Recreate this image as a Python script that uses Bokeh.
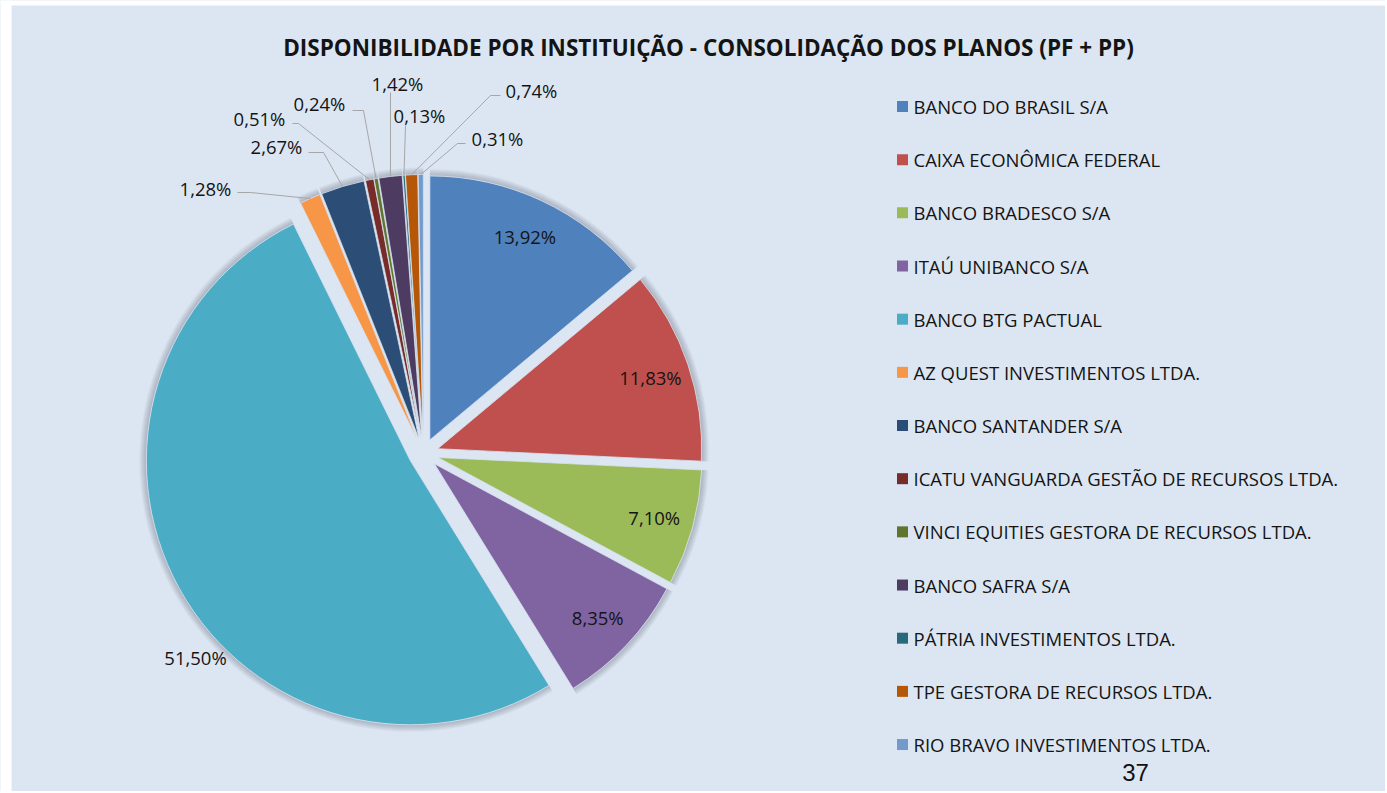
import math
from bokeh.plotting import figure
from bokeh.models import Range1d, ColumnDataSource
from bokeh.core.properties import value
from bokeh.embed import file_html
from bokeh.resources import INLINE

# ---------------- data ----------------
TITLE = "DISPONIBILIDADE POR INSTITUIÇÃO - CONSOLIDAÇÃO DOS PLANOS (PF + PP)"
institutions = [
    "BANCO DO BRASIL S/A",
    "CAIXA ECONÔMICA FEDERAL",
    "BANCO BRADESCO S/A",
    "ITAÚ UNIBANCO S/A",
    "BANCO BTG PACTUAL",
    "AZ QUEST INVESTIMENTOS LTDA.",
    "BANCO SANTANDER S/A",
    "ICATU VANGUARDA GESTÃO DE RECURSOS LTDA.",
    "VINCI EQUITIES GESTORA DE RECURSOS LTDA.",
    "BANCO SAFRA S/A",
    "PÁTRIA INVESTIMENTOS LTDA.",
    "TPE GESTORA DE RECURSOS LTDA.",
    "RIO BRAVO INVESTIMENTOS LTDA.",
]
shares = [13.92, 11.83, 7.10, 8.35, 51.50, 1.28, 2.67, 0.51, 0.24, 1.42, 0.13, 0.74, 0.31]
colors = ["#4F81BD", "#C0504D", "#9BBB59", "#8064A2", "#4BACC6", "#F79646", "#2C4D75",
          "#772C2A", "#5F7530", "#4D3B62", "#276A7C", "#B65708", "#729ACA"]
PAGE_NUMBER = "37"

# ---------------- layout ----------------
W, H = 1385, 791
BG = "#DCE6F2"
FONT = "Open Sans"
TXT = "#141414"
CX, CY = 423, 453      # pie centre (screen px)
R = 264                # radius
D = 15                 # explosion distance
LBL_SIZE = "18.5px"

# outside labels: text centre, leader-line points before reaching the slice
OUT_LABELS = {
    4: dict(text=(195, 657), line=None),
    5: dict(text=(205, 188), line=[(237, 192), (250, 192)]),
    6: dict(text=(276, 146), line=[(308, 152), (323, 152)]),
    7: dict(text=(259, 118), line=[(292, 123), (298, 123)]),
    8: dict(text=(319, 103), line=[(352, 110), (363, 110)]),
    9: dict(text=(397, 83), line=[(390, 92)]),
    10: dict(text=(419, 115), line=[(405, 125)]),
    11: dict(text=(531, 90), line=[(500, 95), (490, 95)]),
    12: dict(text=(497, 138), line=[(465, 143), (457, 143)]),
}

p = figure(width=W, height=H, x_range=Range1d(0, W), y_range=Range1d(-H, 0),
           output_backend="svg", toolbar_location=None, min_border=0)
p.axis.visible = False
p.grid.visible = False
p.outline_line_color = None
p.background_fill_color = BG
p.border_fill_color = "white"

# white page strips (left and top)
p.quad(left=[0, 0], right=[11, W], top=[0, 0], bottom=[-H, -5], color="white", line_color=None)

total = sum(shares)
cum = 0.0
starts, ends, apex, dirs = [], [], [], []
for v in shares:
    c0 = cum / total
    c1 = (cum + v) / total
    cum += v
    tm = math.pi * (c0 + c1)             # mid angle clockwise from top
    dx, dy = math.sin(tm), math.cos(tm)  # data direction (y up)
    apex.append((CX + D * dx, -CY + D * dy))
    dirs.append((dx, dy))
    starts.append(math.pi / 2 - 2 * math.pi * c0)
    ends.append(math.pi / 2 - 2 * math.pi * c1)

src = ColumnDataSource(dict(x=[a[0] for a in apex], y=[a[1] for a in apex],
                            s=starts, e=ends, c=colors))

# soft shadow
for k in range(1, 8):
    p.wedge(x="x", y="y", radius=R + k, start_angle="s", end_angle="e", direction="clock",
            source=src, fill_color="#4a5460", fill_alpha=0.05, line_color=None)

p.wedge(x="x", y="y", radius=R, start_angle="s", end_angle="e", direction="clock",
        source=src, fill_color="c", line_color=BG, line_width=0.8)

def fmt(v):
    return ("%.2f" % v).replace(".", ",") + "%"

# inside labels
in_x, in_y, in_t = [], [], []
for i, v in enumerate(shares):
    if i in OUT_LABELS:
        continue
    ax, ay = apex[i]
    dx, dy = dirs[i]
    in_x.append(ax + 0.85 * R * dx)
    in_y.append(ay + 0.85 * R * dy)
    in_t.append(fmt(v))
p.text(in_x, in_y, text=in_t, text_font=value(FONT), text_font_size=value(LBL_SIZE),
       text_color=TXT, text_align="center", text_baseline="middle")

# outside labels + leader lines
out_x, out_y, out_t = [], [], []
for i, spec in OUT_LABELS.items():
    tx, ty = spec["text"]
    out_x.append(tx)
    out_y.append(-ty)
    out_t.append(fmt(shares[i]))
    if spec["line"]:
        ax, ay = apex[i]
        dx, dy = dirs[i]
        pts = [(x, -y) for x, y in spec["line"]] + [(ax + R * dx, ay + R * dy)]
        p.line([q[0] for q in pts], [q[1] for q in pts], line_color="#A6A6A6", line_width=1)
p.text(out_x, out_y, text=out_t, text_font=value(FONT), text_font_size=value(LBL_SIZE),
       text_color=TXT, text_align="center", text_baseline="middle")

# title
p.text([708], [-47], text=[TITLE], text_font=value(FONT), text_font_size=value("22.5px"),
       text_font_style="bold", text_color=TXT, text_align="center", text_baseline="middle")

# legend
LEG_X, LEG_Y0, LEG_DY = 902, 106, 53.17
ly = [-(LEG_Y0 + i * LEG_DY) for i in range(len(institutions))]
p.rect([LEG_X] * len(institutions), ly, width=11, height=11, fill_color=colors, line_color=None)
p.text([LEG_X + 11] * len(institutions), ly, text=institutions, text_font=value(FONT),
       text_font_size=value(LBL_SIZE), text_color=TXT, text_align="left", text_baseline="middle")

# page number
p.text([1135], [-763], text=[PAGE_NUMBER], text_font=value("Liberation Sans"),
       text_font_size=value("24px"), text_color="#111111", text_align="center",
       text_baseline="top")

open("out.html", "w").write(file_html(p, INLINE))
